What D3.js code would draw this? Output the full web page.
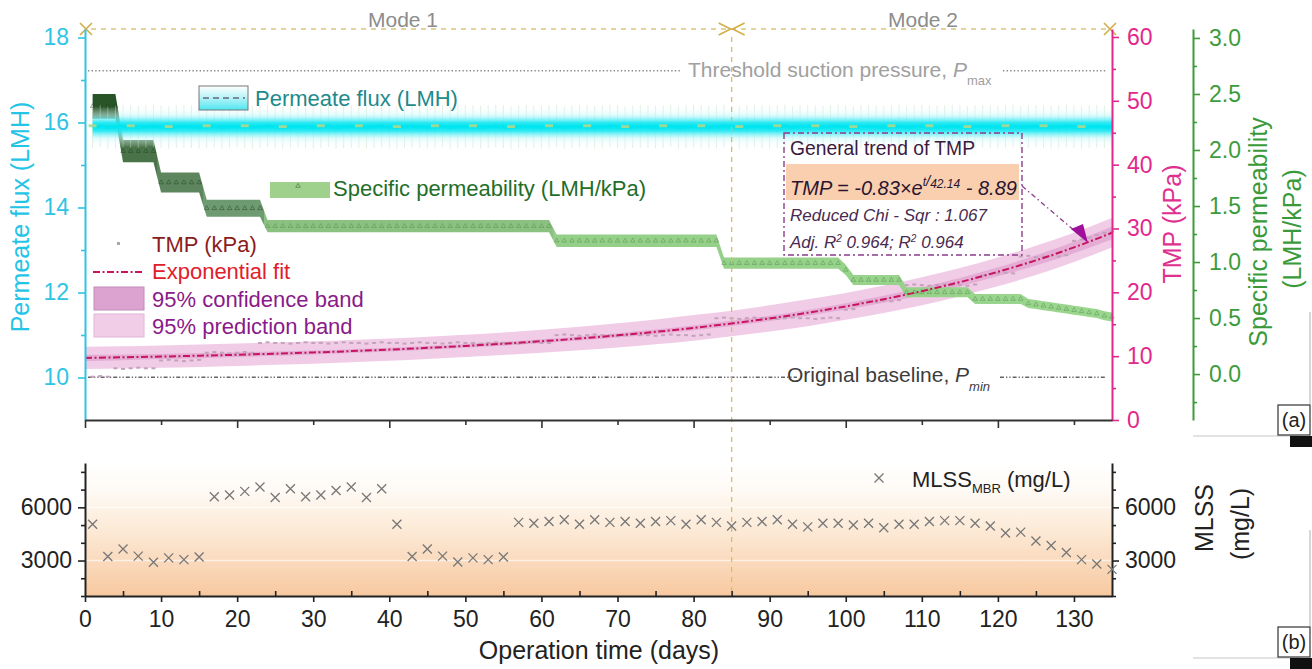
<!DOCTYPE html>
<html><head><meta charset="utf-8">
<script src="https://cdn.jsdelivr.net/npm/d3@7"></script>
<style>body{margin:0;background:#fff;} svg{display:block;}</style>
</head><body><svg id="c" width="1312" height="669"></svg>
<script>
// ---------------- DATA ----------------
const days = [1,2,3,4,5,6,7,8,9,10,11,12,13,14,15,16,17,18,19,20,21,22,23,24,25,26,27,28,29,30,
31,32,33,34,35,36,37,38,39,40,41,42,43,44,45,46,47,48,49,50,51,52,53,54,55,56,57,58,59,60,
61,62,63,64,65,66,67,68,69,70,71,72,73,74,75,76,77,78,79,80,81,82,83,84,85,86,87,88,89,90,
91,92,93,94,95,96,97,98,99,100,101,102,103,104,105,106,107,108,109,110,111,112,113,114,115,116,117,118,119,120,
121,122,123,124,125,126,127,128,129,130,131,132,133,134,135];

const tmpVals = [6.78,6.88,6.78, 8.10,8.00,8.10,8.20,8.10,8.10, 9.32,9.42,9.32,9.22,9.32,9.42,
10.54,10.65,10.54,10.44,10.54,10.65,10.54,
12.07,12.17,12.07,12.07,11.97,12.07,12.17,12.07,12.07,11.97,12.07,12.17,12.07,12.07,11.97,12.07,12.17,12.07,12.07,11.97,
12.07,12.17,12.07,12.07,11.97,12.07,12.17,12.07,12.07,11.97,12.07,12.17,12.07,12.07,11.97,12.07,12.17,12.07,12.07,
13.29,13.39,13.29,13.19,13.29,13.39,13.29,13.29,13.19,13.29,13.39,13.29,13.29,13.19,13.29,13.39,13.29,13.29,13.19,13.29,13.39,
15.94,16.04,15.94,15.84,15.94,16.04,15.94,15.94,15.84,15.94,16.04,15.94,15.94,15.84,15.94,16.04,15.94,
17.27,17.37, 18.39,18.60,18.49,18.70,18.60, 18.79,
21.13,21.23,21.13,21.03,21.13,21.23,21.13,21.13,21.03,21.23,
22.66,22.86,22.97,23.07,22.97,
25.61,25.71,25.51,25.61,25.71,25.61,25.81,
28.06,28.26,28.57,28.98,29.29,29.50];

const spVals = [2.39,2.39,2.39,2.39, 1.99,1.99,1.99,1.99,1.99, 1.71,1.71,1.71,1.71,1.71,1.71,
1.48,1.48,1.48,1.48,1.48,1.48,1.48,1.48,
1.32,1.32,1.32,1.32,1.32,1.32,1.32,1.32,1.32,1.32,1.32,1.32,1.32,1.32,1.32,1.32,1.32,1.32,1.32,
1.32,1.32,1.32,1.32,1.32,1.32,1.32,1.32,1.32,1.32,1.32,1.32,1.32,1.32,1.32,1.32,1.32,1.32,1.32,
1.19,1.19,1.19,1.19,1.19,1.19,1.19,1.19,1.19,1.19,1.19,1.19,1.19,1.19,1.19,1.19,1.19,1.19,1.19,1.19,1.19,1.19,
0.99,0.99,0.99,0.99,0.99,0.99,0.99,0.99,0.99,0.99,0.99,0.99,0.99,0.99,0.99,0.99,
0.93, 0.84,0.84,0.84,0.84,0.84,0.84,0.84,
0.73,0.73,0.73,0.73,0.73,0.73,0.73,0.73,0.73,
0.67,0.67,0.67,0.67,0.67,0.67,0.67,
0.63,0.62,0.61,0.60,0.59,0.58,0.57,0.56,0.55,0.54,0.52,0.51];

const spErr = [0.11,0.11,0.11,0.11, 0.10,0.10,0.10,0.10,0.10, 0.09,0.09,0.09,0.09,0.09,0.09,
0.075,0.075,0.075,0.075,0.075,0.075,0.075,0.075,
0.055,0.055,0.055,0.055,0.055,0.055,0.055,0.055,0.055,0.055,0.055,0.055,0.055,0.055,0.055,0.055,0.055,0.055,0.055,
0.055,0.055,0.055,0.055,0.055,0.055,0.055,0.055,0.055,0.055,0.055,0.055,0.055,0.055,0.055,0.055,0.055,0.055,0.055,
0.055,0.055,0.055,0.055,0.055,0.055,0.055,0.055,0.055,0.055,0.055,0.055,0.055,0.055,0.055,0.055,0.055,0.055,0.055,0.055,0.055,0.055,
0.05,0.05,0.05,0.05,0.05,0.05,0.05,0.05,0.05,0.05,0.05,0.05,0.05,0.05,0.05,0.05,
0.045,0.045,0.045,0.045,0.045,0.045,0.045,0.045,0.045,0.045,0.045,0.045,0.045,0.045,0.045,0.045,0.045,0.045,0.045,0.045,0.045,0.045,0.045,0.045,
0.04,0.04,0.04,0.04,0.04,0.04,0.04,0.04,0.04,0.04,0.04,0.04];

const fluxVals = [15.9,15.92,15.88,15.9,15.91,15.9,15.89,15.9,15.92,15.9,15.88,15.9,15.91,15.9,15.89,
15.9,15.92,15.88,15.9,15.91,15.9,15.89,15.9,15.92,15.9,15.88,15.9,15.91,15.9,15.89,
15.9,15.92,15.88,15.9,15.91,15.9,15.89,15.9,15.92,15.9,15.88,15.9,15.91,15.9,15.89,
15.9,15.92,15.88,15.9,15.91,15.9,15.89,15.9,15.92,15.9,15.88,15.9,15.91,15.9,15.89,
15.9,15.92,15.88,15.9,15.91,15.9,15.89,15.9,15.92,15.9,15.88,15.9,15.91,15.9,15.89,
15.9,15.92,15.88,15.9,15.91,15.9,15.89,15.9,15.92,15.9,15.88,15.9,15.91,15.9,15.89,
15.9,15.92,15.88,15.9,15.91,15.9,15.89,15.9,15.92,15.9,15.88,15.9,15.91,15.9,15.89,
15.9,15.92,15.88,15.9,15.91,15.9,15.89,15.9,15.92,15.9,15.88,15.9,15.91,15.9,15.89,
15.9,15.92,15.88,15.9,15.91,15.9,15.89,15.9,15.92,15.9,15.88,15.9,15.91,15.9,15.89];
const fluxErr = 0.5;

// exponential fit with its bands
const fitDays = [0,5,10,15,20,25,30,35,40,45,50,55,60,65,70,75,80,85,90,95,100,105,110,115,120,125,130,135];
const fitVals = [9.72,9.82,9.94,10.07,10.22,10.39,10.58,10.79,11.03,11.30,11.61,11.95,12.34,12.77,13.26,13.81,14.43,15.13,15.91,16.80,17.80,18.92,20.18,21.60,23.21,25.01,27.04,29.33];
const predHalf = [1.75,1.75,1.75,1.75,1.75,1.75,1.75,1.75,1.75,1.75,1.75,1.75,1.8,1.85,1.9,1.95,2.0,2.0,2.05,2.1,2.1,2.15,2.2,2.2,2.25,2.3,2.3,2.3];
const confHalf = [0.5,0.45,0.4,0.38,0.35,0.33,0.3,0.3,0.3,0.3,0.3,0.3,0.3,0.32,0.34,0.36,0.38,0.4,0.42,0.45,0.5,0.55,0.6,0.65,0.7,0.8,0.9,1.0];

const pMax = 54.7, pMin = 6.7;   // TMP (kPa)
const modeSwitchDay = 85;

const mlssDays = [1,3,5,7,9,11,13,15,17,19,21,23,25,27,29,31,33,35,37,39,41,43,45,47,49,51,53,55,57,59,61,63,65,67,
69,71,73,75,77,79,81,83,85,87,89,91,93,95,97,99,101,103,105,107,109,111,113,115,117,119,121,123,125,127,129,131,133,135];
const mlssVals = [5050,3230,3650,3250,2900,3150,3050,3200,6600,6700,6900,7150,6550,7050,6600,6700,6950,7150,6550,7050,
5050,3230,3650,3250,2920,3150,3050,3200,5150,5100,5200,5300,5050,5300,5150,5200,5100,5200,5250,5050,5300,5150,
4950,5150,5200,5300,5050,4900,5100,5100,5000,5100,4850,5050,5050,5200,5250,5250,5100,4950,4550,4600,4100,3850,3450,3050,2800,2500];

const xTicks = [0,10,20,30,40,50,60,70,80,90,100,110,120,130];
const fluxTicks = [10,12,14,16,18];
const tmpTicks = [0,10,20,30,40,50,60];
const spTicks = [0.0,0.5,1.0,1.5,2.0,2.5,3.0];
const mlssTicks = [3000,6000];

// ---------------- DRAW ----------------
const FONT = '"Liberation Sans", Arial, Helvetica, sans-serif';
const svg = d3.select('#c').style('font-family', FONT);
const defs = svg.append('defs');

const x = d3.scaleLinear().domain([0,135]).range([85,1112]);
const yF = d3.scaleLinear().domain([9,18.2]).range([420,29]);
const yT = d3.scaleLinear().domain([0,61.25]).range([420,29]);
const yS = d3.scaleLinear().domain([-0.41,3.08]).range([420,29]);
const yM = d3.scaleLinear().domain([1000,8500]).range([596,463]);

// gradients
const bg = defs.append('linearGradient').attr('id','bgB').attr('x1',0).attr('x2',0).attr('y1',0).attr('y2',1);
[[0,'#ffffff'],[0.2,'#fefaf5'],[0.5,'#fcead7'],[1,'#f7c9a0']].forEach(s=>bg.append('stop').attr('offset',s[0]).attr('stop-color',s[1]));

const fg = defs.append('linearGradient').attr('id','fluxG').attr('x1',0).attr('x2',0).attr('y1',0).attr('y2',1);
[[0,'#ffffff',0],[0.22,'#c6f8fa',0.55],[0.4,'#22e8f2',0.95],[0.5,'#00e4ef',1],[0.6,'#22e8f2',0.95],[0.78,'#c6f8fa',0.55],[1,'#ffffff',0]]
 .forEach(s=>fg.append('stop').attr('offset',s[0]).attr('stop-color',s[1]).attr('stop-opacity',s[2]));

const lg = defs.append('linearGradient').attr('id','fluxLeg').attr('x1',0).attr('x2',0).attr('y1',0).attr('y2',1);
[[0,'#ffffff'],[0.45,'#bdf4f8'],[1,'#4fe6f0']].forEach(s=>lg.append('stop').attr('offset',s[0]).attr('stop-color',s[1]));

const spStops = [[0,'#1c4b1c'],[4.5,'#1c4b1c'],[4.5,'#3f6c3f'],[9.5,'#3f6c3f'],[9.5,'#557f55'],[15.5,'#557f55'],
  [15.5,'#66956a'],[23.5,'#66956a'],[23.5,'#84bd7a'],[61.5,'#84bd7a'],[61.5,'#8ecc82'],[135,'#95d488']];
const sg = defs.append('linearGradient').attr('id','spG').attr('gradientUnits','userSpaceOnUse')
  .attr('x1',x(0)).attr('x2',x(135)).attr('y1',0).attr('y2',0);
spStops.forEach(s=>sg.append('stop').attr('offset',(s[0]/135)).attr('stop-color',s[1]));

// bottom panel background
svg.append('rect').attr('x',x(0)).attr('y',yM(8500)).attr('width',x(135)-x(0)).attr('height',yM(1000)-yM(8500)).attr('fill','url(#bgB)');
svg.append('g').selectAll('line').data(mlssTicks).join('line')
  .attr('x1',x(0)).attr('x2',x(135)).attr('y1',d=>yM(d)).attr('y2',d=>yM(d))
  .attr('stroke','#ffffff').attr('stroke-opacity',0.6).attr('stroke-width',1.5);

// threshold / baseline lines
const thr = svg.append('g');
thr.append('line').attr('x1',88).attr('x2',680).attr('y1',yT(pMax)).attr('y2',yT(pMax))
  .attr('stroke','#8a8a8a').attr('stroke-width',1.4).attr('stroke-dasharray','1.4,2.2');
thr.append('line').attr('x1',1003).attr('x2',1106).attr('y1',yT(pMax)).attr('y2',yT(pMax))
  .attr('stroke','#8a8a8a').attr('stroke-width',1.4).attr('stroke-dasharray','1.4,2.2');
const tt = thr.append('text').attr('x',688).attr('y',yT(pMax)+6).attr('fill','#a0a0a0').style('font-size','21px');
tt.append('tspan').text('Threshold suction pressure, ');
tt.append('tspan').attr('font-style','italic').text('P');
tt.append('tspan').attr('dy',8).style('font-size','13px').text('max');

thr.append('line').attr('x1',88).attr('x2',797).attr('y1',yT(pMin)).attr('y2',yT(pMin))
  .attr('stroke','#666').attr('stroke-width',1.4).attr('stroke-dasharray','4,2,1.3,2,1.3,2');
thr.append('line').attr('x1',1000).attr('x2',1106).attr('y1',yT(pMin)).attr('y2',yT(pMin))
  .attr('stroke','#666').attr('stroke-width',1.4).attr('stroke-dasharray','4,2,1.3,2,1.3,2');
const tb = thr.append('text').attr('x',787).attr('y',yT(pMin)+5).attr('fill','#3c3c3c').style('font-size','21px');
tb.append('tspan').text('Original baseline, ');
tb.append('tspan').attr('font-style','italic').text('P');
tb.append('tspan').attr('dy',9).attr('font-style','italic').style('font-size','13px').text('min');

// TMP bands
const fitData = fitDays.map((d,i)=>({d, v:fitVals[i], p:predHalf[i], c:confHalf[i]}));
svg.append('path').datum(fitData)
  .attr('d', d3.area().curve(d3.curveMonotoneX).x(d=>x(d.d)).y0(d=>yT(d.v-d.p)).y1(d=>yT(d.v+d.p)))
  .attr('fill','#efc3e3').attr('fill-opacity',0.85);
svg.append('path').datum(fitData)
  .attr('d', d3.area().curve(d3.curveMonotoneX).x(d=>x(d.d)).y0(d=>yT(d.v-d.c)).y1(d=>yT(d.v+d.c)))
  .attr('fill','#dc98cc').attr('fill-opacity',0.6);

// TMP points
svg.append('g').selectAll('rect').data(days).join('rect')
  .attr('x',(d)=>x(d)-2).attr('y',(d,i)=>yT(tmpVals[i])-1).attr('width',4).attr('height',2)
  .attr('fill','#c4a2bb');

// specific permeability band
const spData = days.map((d,i)=>({d, v:spVals[i], e:spErr[i]}));
svg.append('path').datum(spData)
  .attr('d', d3.area().x(d=>x(d.d)).y0(d=>yS(d.v-d.e)).y1(d=>yS(d.v+d.e)))
  .attr('fill','url(#spG)').attr('fill-opacity',0.95);
const tri = d3.symbol().type(d3.symbolTriangle).size(9);
svg.append('g').selectAll('path').data(spData).join('path')
  .attr('transform',d=>`translate(${x(d.d)},${yS(d.v)})`).attr('d',tri)
  .attr('fill','none').attr('stroke',(d)=>d.d<24?'#1d3d1d':'#4f8a48').attr('stroke-opacity',0.55).attr('stroke-width',0.8);

// fit line
svg.append('path').datum(fitData)
  .attr('d', d3.line().curve(d3.curveMonotoneX).x(d=>x(d.d)).y(d=>yT(d.v)))
  .attr('fill','none').attr('stroke','#c8145c').attr('stroke-width',2).attr('stroke-dasharray','7,2.5,2,2.5');

// permeate flux
const fluxData = days.map((d,i)=>({d, v:fluxVals[i]}));
svg.append('g').selectAll('line').data(fluxData).join('line')
  .attr('x1',d=>x(d.d)).attr('x2',d=>x(d.d)).attr('y1',d=>yF(d.v+fluxErr)).attr('y2',d=>yF(d.v-fluxErr))
  .attr('stroke','#b9d8b4').attr('stroke-opacity',0.55).attr('stroke-width',0.8);
svg.append('path').datum(fluxData)
  .attr('d', d3.area().x(d=>x(d.d)).y0(d=>yF(d.v-0.47)).y1(d=>yF(d.v+0.47)))
  .attr('fill','url(#fluxG)');
svg.append('path').datum(fluxData)
  .attr('d', d3.line().x(d=>x(d.d)).y(d=>yF(d.v)))
  .attr('fill','none').attr('stroke','#00e6f0').attr('stroke-width',3);
svg.append('g').selectAll('rect').data(fluxData.filter((d,i)=>i%5===0)).join('rect')
  .attr('x',d=>x(d.d)-4).attr('y',d=>yF(d.v)-2.5).attr('width',8).attr('height',3)
  .attr('fill','#a8d890').attr('fill-opacity',0.9);

// mode markers
const modeY = 29;
const mg = svg.append('g').attr('stroke','#d8c57a');
mg.append('line').attr('x1',x(0)+6).attr('x2',x(135)-6).attr('y1',modeY).attr('y2',modeY)
  .attr('stroke-width',1.3).attr('stroke-dasharray','5,5');
mg.append('line').attr('x1',x(modeSwitchDay)).attr('x2',x(modeSwitchDay)).attr('y1',modeY+8).attr('y2',yM(1000))
  .attr('stroke','#d6bd66').attr('stroke-width',1.3).attr('stroke-dasharray','5,5');
[x(0)+1, x(135)-2].forEach(cx=>{
  mg.append('path').attr('d',`M${cx-6},${modeY-6}L${cx+6},${modeY+6}M${cx+6},${modeY-6}L${cx-6},${modeY+6}`)
    .attr('stroke','#d2ae4a').attr('stroke-width',1.6).attr('fill','none');
});
const xm = x(modeSwitchDay);
mg.append('path').attr('d',`M${xm-13},${modeY-6}L${xm-1},${modeY}L${xm-13},${modeY+6}M${xm+13},${modeY-6}L${xm+1},${modeY}L${xm+13},${modeY+6}`)
  .attr('stroke','#d2ae4a').attr('stroke-width',1.6).attr('fill','none');
svg.append('text').attr('x',403).attr('y',27).attr('text-anchor','middle').attr('fill','#8c8c8c').style('font-size','21px').text('Mode 1');
svg.append('text').attr('x',923).attr('y',27).attr('text-anchor','middle').attr('fill','#8c8c8c').style('font-size','21px').text('Mode 2');

// ---------------- AXES ----------------
function styleAxis(g, color, fs){
  g.attr('font-family', FONT).attr('font-size', fs);
  g.selectAll('path.domain').attr('stroke', color).attr('stroke-width', 2);
  g.selectAll('.tick line').attr('stroke', color).attr('stroke-width', 1.6);
  g.selectAll('.tick text').attr('fill', color);
}
function minor(g){ g.select('path.domain').remove(); }

// left flux axis
const gL = svg.append('g').attr('transform',`translate(${x(0)},0)`);
gL.call(d3.axisLeft(yF).tickValues(fluxTicks).tickFormat(d3.format('d')).tickSize(7).tickSizeOuter(0).tickPadding(9));
styleAxis(gL,'#2ec4e4',23);
const gLm = svg.append('g').attr('transform',`translate(${x(0)},0)`);
gLm.call(d3.axisLeft(yF).tickValues([11,13,15,17]).tickFormat('').tickSize(4)); minor(gLm); styleAxis(gLm,'#2ec4e4',10);

// TMP axis
const gT = svg.append('g').attr('transform',`translate(${x(135)},0)`);
gT.call(d3.axisRight(yT).tickValues(tmpTicks).tickSize(7).tickSizeOuter(0).tickPadding(8));
styleAxis(gT,'#e2288c',23);
const gTm = svg.append('g').attr('transform',`translate(${x(135)},0)`);
gTm.call(d3.axisRight(yT).tickValues([5,15,25,35,45,55]).tickFormat('').tickSize(4)); minor(gTm); styleAxis(gTm,'#e2288c',10);

// specific permeability axis
const gS = svg.append('g').attr('transform','translate(1193,0)');
gS.call(d3.axisRight(yS).tickValues(spTicks).tickFormat(d3.format('.1f')).tickSize(7).tickSizeOuter(0).tickPadding(9));
styleAxis(gS,'#3c9c3c',23);
const gSm = svg.append('g').attr('transform','translate(1193,0)');
gSm.call(d3.axisRight(yS).tickValues([-0.25,0.25,0.75,1.25,1.75,2.25,2.75]).tickFormat('').tickSize(4)); minor(gSm); styleAxis(gSm,'#3c9c3c',10);

// top panel x axis (no labels)
const gX1 = svg.append('g').attr('transform','translate(0,420)');
gX1.call(d3.axisBottom(x).tickValues([0,20,40,60,80,100,120]).tickFormat('').tickSize(8).tickSizeOuter(0));
styleAxis(gX1,'#333',10);
const gX1m = svg.append('g').attr('transform','translate(0,420)');
gX1m.call(d3.axisBottom(x).tickValues([10,30,50,70,90,110,130]).tickFormat('').tickSize(5)); minor(gX1m); styleAxis(gX1m,'#333',10);

// bottom panel axes
const gX2 = svg.append('g').attr('transform',`translate(0,${yM(1000)})`);
gX2.call(d3.axisBottom(x).tickValues(xTicks).tickSize(6).tickSizeOuter(0).tickPadding(9));
styleAxis(gX2,'#222',23);
const gX2m = svg.append('g').attr('transform',`translate(0,${yM(1000)})`);
gX2m.call(d3.axisTop(x).tickValues([5,15,25,35,45,55,65,75,85,95,105,115,125]).tickFormat('').tickSize(5)); minor(gX2m); styleAxis(gX2m,'#222',10);

const gML = svg.append('g').attr('transform',`translate(${x(0)},0)`);
gML.call(d3.axisLeft(yM).tickValues(mlssTicks).tickSize(7).tickSizeOuter(0).tickPadding(6).tickFormat(d3.format('d')));
styleAxis(gML,'#222',23);
const gMLm = svg.append('g').attr('transform',`translate(${x(0)},0)`);
gMLm.call(d3.axisLeft(yM).tickValues([1000,2000,4000,5000,7000,8000]).tickFormat('').tickSize(4)); minor(gMLm); styleAxis(gMLm,'#222',10);
const gMR = svg.append('g').attr('transform',`translate(${x(135)},0)`);
gMR.call(d3.axisRight(yM).tickValues(mlssTicks).tickSize(7).tickSizeOuter(0).tickPadding(6).tickFormat(d3.format('d')));
styleAxis(gMR,'#222',23);
const gMRm = svg.append('g').attr('transform',`translate(${x(135)},0)`);
gMRm.call(d3.axisRight(yM).tickValues([1000,2000,4000,5000,7000,8000]).tickFormat('').tickSize(4)); minor(gMRm); styleAxis(gMRm,'#222',10);

// axis titles
function vtitle(cx, cy, txt, color, fs){
  svg.append('text').attr('transform',`translate(${cx},${cy}) rotate(-90)`).attr('text-anchor','middle')
    .attr('dy','0.35em').attr('fill',color).style('font-size',fs+'px').text(txt);
}
vtitle(20, 217, 'Permeate flux (LMH)', '#24c4e6', 25);
vtitle(1172, 224, 'TMP (kPa)', '#e0308f', 25);
vtitle(1258, 232, 'Specific permeability', '#3a9a3a', 25);
vtitle(1292, 229, '(LMH/kPa)', '#3a9a3a', 25);
vtitle(1204, 518, 'MLSS', '#222', 25);
vtitle(1240, 524, '(mg/L)', '#222', 25);
svg.append('text').attr('x',599).attr('y',659).attr('text-anchor','middle').attr('fill','#222').style('font-size','25px').text('Operation time (days)');

// ---------------- LEGENDS ----------------
// flux legend
svg.append('rect').attr('x',199).attr('y',86).attr('width',49).attr('height',24).attr('fill','url(#fluxLeg)').attr('stroke','#777').attr('stroke-width',1);
svg.append('line').attr('x1',203).attr('x2',245).attr('y1',98).attr('y2',98).attr('stroke','#7c8aa0').attr('stroke-width',2).attr('stroke-dasharray','6,4');
svg.append('text').attr('x',255).attr('y',106).attr('fill','#1d8a8c').style('font-size','22px').text('Permeate flux (LMH)');
// sp legend
svg.append('rect').attr('x',270).attr('y',182).attr('width',60).attr('height',16).attr('fill','#9fd08c');
svg.append('path').attr('transform','translate(298,186)').attr('d',tri).attr('fill','none').attr('stroke','#4f8a48').attr('stroke-width',0.8);
svg.append('text').attr('x',333).attr('y',196).attr('fill','#1f6e2a').style('font-size','22px').text('Specific permeability (LMH/kPa)');
// TMP legend
svg.append('rect').attr('x',117).attr('y',242).attr('width',3).attr('height',3).attr('fill','#b0a4ac');
svg.append('text').attr('x',152).attr('y',252).attr('fill','#8c1c1c').style('font-size','22px').text('TMP (kPa)');
svg.append('line').attr('x1',93).attr('x2',142).attr('y1',272).attr('y2',272).attr('stroke','#c8145c').attr('stroke-width',2).attr('stroke-dasharray','7,2.5,2,2.5');
svg.append('text').attr('x',152).attr('y',279).attr('fill','#e0202a').style('font-size','22px').text('Exponential fit');
svg.append('rect').attr('x',94).attr('y',287).attr('width',50).attr('height',23).attr('fill','#dca2d0').attr('stroke','#c48ab8');
svg.append('text').attr('x',152).attr('y',307).attr('fill','#8a1a8a').style('font-size','22px').text('95% confidence band');
svg.append('rect').attr('x',94).attr('y',314).attr('width',50).attr('height',23).attr('fill','#f1cde7').attr('stroke','#e2b4d8');
svg.append('text').attr('x',152).attr('y',334).attr('fill','#8a1a8a').style('font-size','22px').text('95% prediction band');

// equation box
svg.append('rect').attr('x',786).attr('y',164).attr('width',233).attr('height',36).attr('fill','#f9cfaf');
svg.append('rect').attr('x',784).attr('y',133).attr('width',238).attr('height',122).attr('fill','none')
  .attr('stroke','#8b3d8b').attr('stroke-width',1.4).attr('stroke-dasharray','6,3,2,3');
svg.append('text').attr('x',790).attr('y',155).attr('fill','#3b1a40').style('font-size','21px')
  .attr('textLength',185).attr('lengthAdjust','spacingAndGlyphs').text('General trend of TMP');
const eq = svg.append('text').attr('x',790).attr('y',195).attr('fill','#2a1530').style('font-size','20px').attr('font-style','italic');
eq.append('tspan').text('TMP = -0.83×e');
eq.append('tspan').attr('dy',-9).style('font-size','12px').text('t');
eq.append('tspan').style('font-size','15px').text('/');
eq.append('tspan').attr('dy',2).style('font-size','12px').text('42.14');
eq.append('tspan').attr('dy',7).text(' - 8.89');
svg.append('text').attr('x',790).attr('y',221).attr('fill','#4a2a50').style('font-size','17px').attr('font-style','italic')
  .attr('textLength',197).attr('lengthAdjust','spacingAndGlyphs').text('Reduced Chi - Sqr : 1.067');
const ad = svg.append('text').attr('x',790).attr('y',248).attr('fill','#4a2a50').style('font-size','17px').attr('font-style','italic');
ad.append('tspan').text('Adj. R');
ad.append('tspan').attr('dy',-6).style('font-size','10px').text('2');
ad.append('tspan').attr('dy',6).text('  0.964; R');
ad.append('tspan').attr('dy',-6).style('font-size','10px').text('2');
ad.append('tspan').attr('dy',6).text('  0.964');

// arrow
svg.append('line').attr('x1',1022).attr('y1',186).attr('x2',1076).attr('y2',232)
  .attr('stroke','#8b3d8b').attr('stroke-width',1.3).attr('stroke-dasharray','5,3,1.5,3');
svg.append('path').attr('d','M1071,229 L1083,224 L1088,243 Z').attr('fill','#a0109a');

// MLSS points
svg.append('g').selectAll('path').data(mlssDays).join('path')
  .attr('d',(d,i)=>{const cx=x(d), cy=yM(mlssVals[i]); return `M${cx-4.5},${cy-4.5}L${cx+4.5},${cy+4.5}M${cx+4.5},${cy-4.5}L${cx-4.5},${cy+4.5}`;})
  .attr('stroke','#777').attr('stroke-width',1.3).attr('fill','none');
svg.append('path').attr('d','M874.5,473.5L883.5,482.5M883.5,473.5L874.5,482.5').attr('stroke','#777').attr('stroke-width',1.3);
const ml = svg.append('text').attr('x',912).attr('y',487).attr('fill','#222').style('font-size','22px');
ml.append('tspan').text('MLSS');
ml.append('tspan').attr('dy',6).style('font-size','13px').text('MBR');
ml.append('tspan').attr('dy',-6).text(' (mg/L)');

// panel labels
svg.append('line').attr('x1',1193).attr('x2',1300).attr('y1',436).attr('y2',436).attr('stroke','#e2e2e2').attr('stroke-width',2);
svg.append('line').attr('x1',1193).attr('x2',1300).attr('y1',658).attr('y2',658).attr('stroke','#e2e2e2').attr('stroke-width',2);
svg.append('line').attr('x1',1310).attr('x2',1310).attr('y1',312).attr('y2',404).attr('stroke','#d8d8d8').attr('stroke-width',2);
svg.append('line').attr('x1',1310).attr('x2',1310).attr('y1',530).attr('y2',626).attr('stroke','#d8d8d8').attr('stroke-width',2);
[['(a)',405],['(b)',627]].forEach(([t,y0])=>{
  svg.append('rect').attr('x',1278).attr('y',y0).attr('width',32).attr('height',30).attr('fill','#fff').attr('stroke','#333').attr('stroke-width',1.2);
  svg.append('text').attr('x',1294).attr('y',y0+22).attr('text-anchor','middle').attr('fill','#222').style('font-size','20px').text(t);
  svg.append('rect').attr('x',1290).attr('y',y0+31).attr('width',22).attr('height',11).attr('fill','#111');
});
</script></body></html>
